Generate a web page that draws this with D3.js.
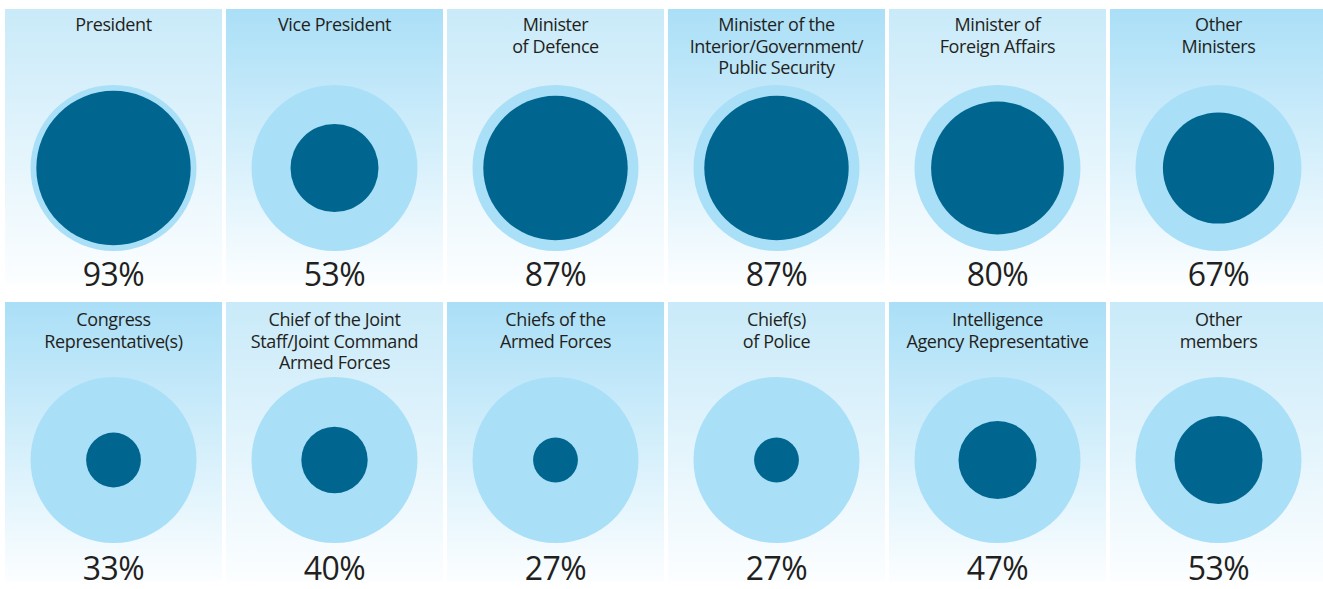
<!DOCTYPE html>
<html>
<head>
<meta charset="utf-8">
<script src="https://cdn.jsdelivr.net/npm/d3@7"></script>
<style>
  body { margin: 0; background: #fff; }
  text { font-family: "Open Sans", sans-serif; fill: #231f20; }
</style>
</head>
<body>
<svg id="chart" width="1323" height="589"></svg>
<script>
// council members, two rows of six
var roles_row1 = [
  ["President"],
  ["Vice President"],
  ["Minister", "of Defence"],
  ["Minister of the", "Interior/Government/", "Public Security"],
  ["Minister of", "Foreign Affairs"],
  ["Other", "Ministers"]
];
var values_row1 = [93, 53, 87, 87, 80, 67];

var roles_row2 = [
  ["Congress", "Representative(s)"],
  ["Chief of the Joint", "Staff/Joint Command", "Armed Forces"],
  ["Chiefs of the", "Armed Forces"],
  ["Chief(s)", "of Police"],
  ["Intelligence", "Agency Representative"],
  ["Other", "members"]
];
var values_row2 = [33, 40, 27, 27, 47, 53];

var rows = [
  {roles: roles_row1, values: values_row1, top: 9, h: 276, cy: 168, pctY: 286, titleY: 31},
  {roles: roles_row2, values: values_row2, top: 302, h: 280, cy: 460, pctY: 580, titleY: 326}
];

var svg = d3.select("#chart");
var defs = svg.append("defs");

var gradColors = ["#c9eaf9", "#aadff7"];
gradColors.forEach(function(c, i) {
  var g = defs.append("linearGradient")
    .attr("id", "grad" + i)
    .attr("x1", 0).attr("y1", 0).attr("x2", 0).attr("y2", 1);
  g.append("stop").attr("offset", 0).attr("stop-color", c);
  g.append("stop").attr("offset", 1).attr("stop-color", "#fcfeff");
});

var x = d3.scaleBand()
  .domain(d3.range(6))
  .range([5, 1327])
  .paddingInner(0.018)
  .paddingOuter(0);

var outerR = 83;
// radius scales linearly with the share
var r = d3.scaleLinear().domain([0, 100]).range([0, outerR]);

rows.forEach(function(row, ri) {
  var g = svg.append("g");
  var cell = g.selectAll("g.cell")
    .data(row.values)
    .enter()
    .append("g")
    .attr("class", "cell")
    .attr("transform", function(d, i) { return "translate(" + x(i) + ",0)"; });

  cell.append("rect")
    .attr("x", 0)
    .attr("y", row.top)
    .attr("width", x.bandwidth())
    .attr("height", row.h)
    .attr("fill", function(d, i) { return "url(#grad" + ((ri + i) % 2) + ")"; });

  var cx = x.bandwidth() / 2;

  cell.append("circle")
    .attr("cx", cx)
    .attr("cy", row.cy)
    .attr("r", outerR)
    .attr("fill", "#aadff8");

  cell.append("circle")
    .attr("cx", cx)
    .attr("cy", row.cy)
    .attr("r", function(d) { return r(d); })
    .attr("fill", "#00668f");

  cell.append("text")
    .attr("x", cx)
    .attr("y", row.pctY)
    .attr("text-anchor", "middle")
    .style("font-size", "32px")
    .style("letter-spacing", "-0.5px")
    .text(function(d) { return d + "%"; });

  cell.each(function(d, i) {
    var t = d3.select(this).append("text")
      .attr("x", cx)
      .attr("y", row.titleY)
      .attr("text-anchor", "middle")
      .style("font-size", "18px")
      .style("letter-spacing", "-0.4px");
    row.roles[i].forEach(function(line, li) {
      t.append("tspan")
        .attr("x", cx)
        .attr("dy", li === 0 ? 0 : 21.5)
        .text(line);
    });
  });
});
</script>
</body>
</html>
